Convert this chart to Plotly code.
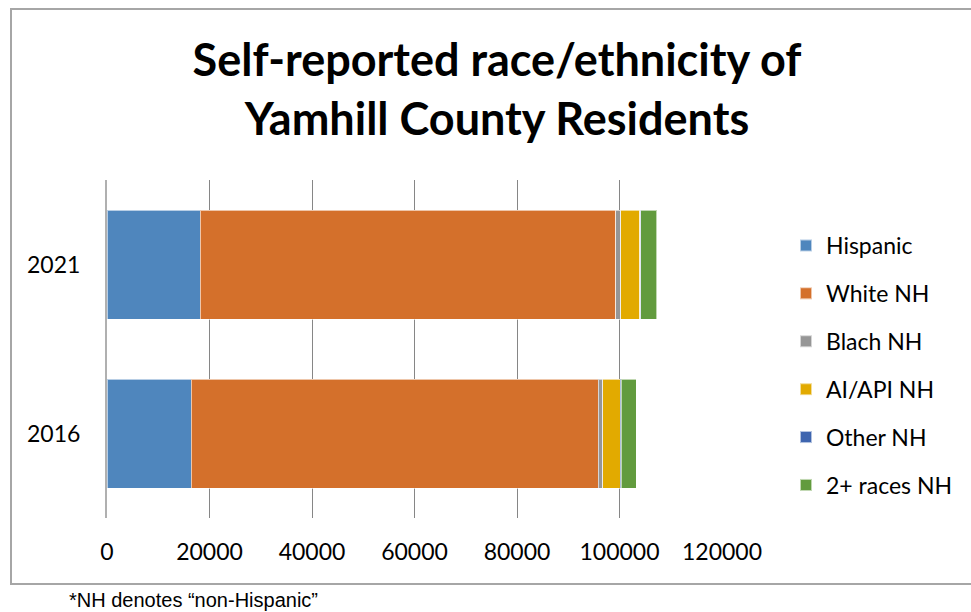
import plotly.graph_objects as go

years = ["2016", "2021"]
series_names = ["Hispanic", "White NH", "Blach NH", "AI/API NH", "Other NH", "2+ races NH"]
hispanic = [16400, 18150]
white_nh = [79500, 81150]
black_nh = [830, 900]
ai_api_nh = [3400, 3750]
other_nh = [200, 200]
two_plus_nh = [2900, 3100]
colors = ["#4F86BD", "#D4702B", "#969696", "#E2AA00", "#3E65AF", "#629B3E"]
x_ticks = [0, 20000, 40000, 60000, 80000, 100000, 120000]

W, H = 971, 612
FONT = "Lato"

fig = go.Figure()
for name, vals, col in zip(series_names,
                           [hispanic, white_nh, black_nh, ai_api_nh, other_nh, two_plus_nh],
                           colors):
    fig.add_trace(go.Bar(y=years, x=vals, name=name, orientation="h", legendgroup=name,
                         marker=dict(color=col, line=dict(color="rgba(255,255,255,0.6)", width=1))))

x0, x1 = 107, 722
y0, y1 = 180, 518
fig.update_layout(
    width=W, height=H,
    barmode="stack", bargap=0.355,
    margin=dict(l=0, r=0, t=0, b=0, autoexpand=False),
    paper_bgcolor="white", plot_bgcolor="white",
    font=dict(family=FONT, size=23, color="#000000"),
    title=dict(text="<b>Self-reported race/ethnicity of<br>Yamhill County Residents</b>",
               x=497 / W, xanchor="center", y=1 - 76 / H, yanchor="middle",
               font=dict(family=FONT, size=45, color="#000000")),
    xaxis=dict(domain=[x0 / W, x1 / W], range=[0, 120000], tickvals=x_ticks,
               tickformat="d", showgrid=True, gridcolor="#868686", gridwidth=1,
               zeroline=False, showline=False, ticks="", tickfont=dict(size=23),
               ticklabelstandoff=18, automargin=False),
    yaxis=dict(domain=[1 - y1 / H, 1 - y0 / H], showline=True, linecolor="#B0B0B0",
               linewidth=2, ticks="", tickfont=dict(size=23), ticklabelstandoff=20,
               automargin=False),
    legend=dict(x=786 / W, y=1 - 224 / H, xanchor="left", yanchor="top",
                traceorder="grouped", font=dict(size=23), itemsizing="constant",
                tracegroupgap=15, itemwidth=30, bgcolor="rgba(0,0,0,0)"),
    shapes=[dict(type="rect", xref="paper", yref="paper",
                 x0=11 / W, x1=1.02, y0=1 - 584 / H, y1=1 - 9 / H,
                 line=dict(color="#A6A6A6", width=2), fillcolor="rgba(0,0,0,0)", layer="below")],
    annotations=[dict(text="*NH denotes \u201cnon-Hispanic\u201d", xref="paper", yref="paper",
                      x=67 / W, y=1 - 600 / H, xanchor="left", yanchor="middle", showarrow=False,
                      font=dict(family="Liberation Sans", size=20, color="#000000"))],
)
fig.write_html("out.html")
